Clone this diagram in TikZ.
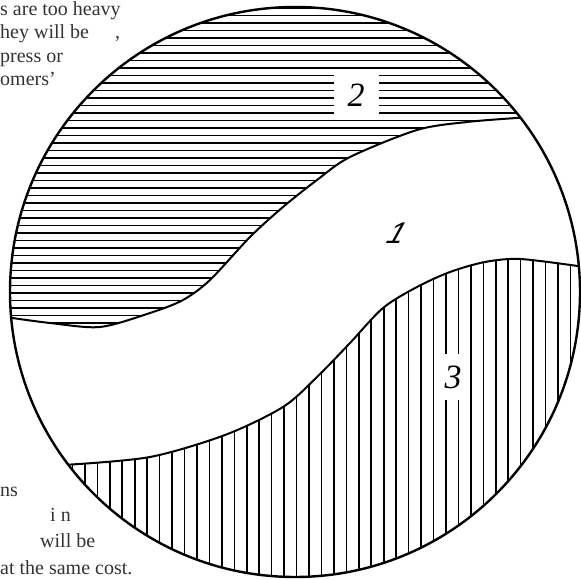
\documentclass[tikz,border=0pt]{standalone}
\usepackage{fontspec}
\setmainfont{Liberation Serif}
\newfontfamily\onefont{Liberation Sans}
\begin{document}
\begin{tikzpicture}[x=1pt,y=1pt,
  outline/.style={line width=2.4pt},
  edgeline/.style={line width=2pt},
  hhatch/.style={line width=1.6pt},
  vhatch/.style={line width=1.6pt},
  txt/.style={anchor=base west, inner sep=0pt, font=\fontsize{20}{23}\selectfont, text=black!80},
  num/.style={font=\fontsize{34}{34}\selectfont\itshape, inner sep=0pt}]
\useasboundingbox (0,0) rectangle (581,580);
\coordinate (O) at (295,288);
% upper boundary curve (between 2 and 1)
\coordinate (a1) at ([shift={(185.2:285)}]O);
\coordinate (a2) at (50,257);
\coordinate (a3) at (100,253);
\coordinate (a4) at (150,267);
\coordinate (a5) at (183,280);
\coordinate (a6) at (210,300);
\coordinate (a7) at (250,343);
\coordinate (a8) at (283,373);
\coordinate (a9) at (317,400);
\coordinate (a10) at (350,423);
\coordinate (a11) at (417,450);
\coordinate (a12) at (467,458);
\coordinate (a13) at ([shift={(37.7:285)}]O);
% lower boundary curve (between 1 and 3)
\coordinate (b1) at ([shift={(217.3:285)}]O);
\coordinate (b2) at (150,123);
\coordinate (b3) at (225,145);
\coordinate (b4) at (283,173);
\coordinate (b5) at (317,203);
\coordinate (b6) at (350,237);
\coordinate (b7) at (383,272);
\coordinate (b8) at (417,293);
\coordinate (b9) at (450,308);
\coordinate (b10) at (485,318);
\coordinate (b11) at (520,321);
\coordinate (b12) at ([shift={(5.2:285)}]O);
% region 2 hatching
\begin{scope}
  \clip plot[smooth] coordinates {(a1) (a2) (a3) (a4) (a5) (a6) (a7) (a8) (a9) (a10) (a11) (a12) (a13)}
        arc[start angle=37.7, end angle=185.2, radius=285] -- cycle;
  \foreach \yy in {572,564.5,...,240} \draw[hhatch] (0,\yy) -- (581,\yy);
\end{scope}
% region 3 hatching
\begin{scope}
  \clip plot[smooth] coordinates {(b1) (b2) (b3) (b4) (b5) (b6) (b7) (b8) (b9) (b10) (b11) (b12)}
        arc[start angle=5.2, end angle=-142.7, radius=285] -- cycle;
  \foreach \xx in {60,72.45,...,590} \draw[vhatch] (\xx,0) -- (\xx,340);
\end{scope}
% labels
\node[num, fill=white, minimum width=45pt, minimum height=44pt] (l2) at (356,485) {2};
\node[num, fill=white, minimum width=26pt, minimum height=46pt] (l3) at (453,203) {3};
\node[inner sep=0pt, font=\onefont\fontsize{30}{30}\selectfont\itshape, xslant=0.35] (l1) at (397,347) {1};
% boundaries
\draw[edgeline] plot[smooth] coordinates {(a1) (a2) (a3) (a4) (a5) (a6) (a7) (a8) (a9) (a10) (a11) (a12) (a13)};
\draw[edgeline] plot[smooth] coordinates {(b1) (b2) (b3) (b4) (b5) (b6) (b7) (b8) (b9) (b10) (b11) (b12)};
\draw[outline] (O) circle[radius=285];
% surrounding text fragments
\node[txt] (t1) at (0,564) {s are too heavy};
\node[txt] (t2) at (0,541) {hey will be\hspace{26pt},};
\node[txt] (t3) at (0,517) {press or};
\node[txt] (t4) at (0,494) {omers’};
\node[txt] (t5) at (0,83) {ns};
\node[txt] (t6) at (50,58) {i n};
\node[txt] (t7) at (40,32) {will be};
\node[txt] (t8) at (0,5) {at the same cost.};
\end{tikzpicture}
\end{document}
